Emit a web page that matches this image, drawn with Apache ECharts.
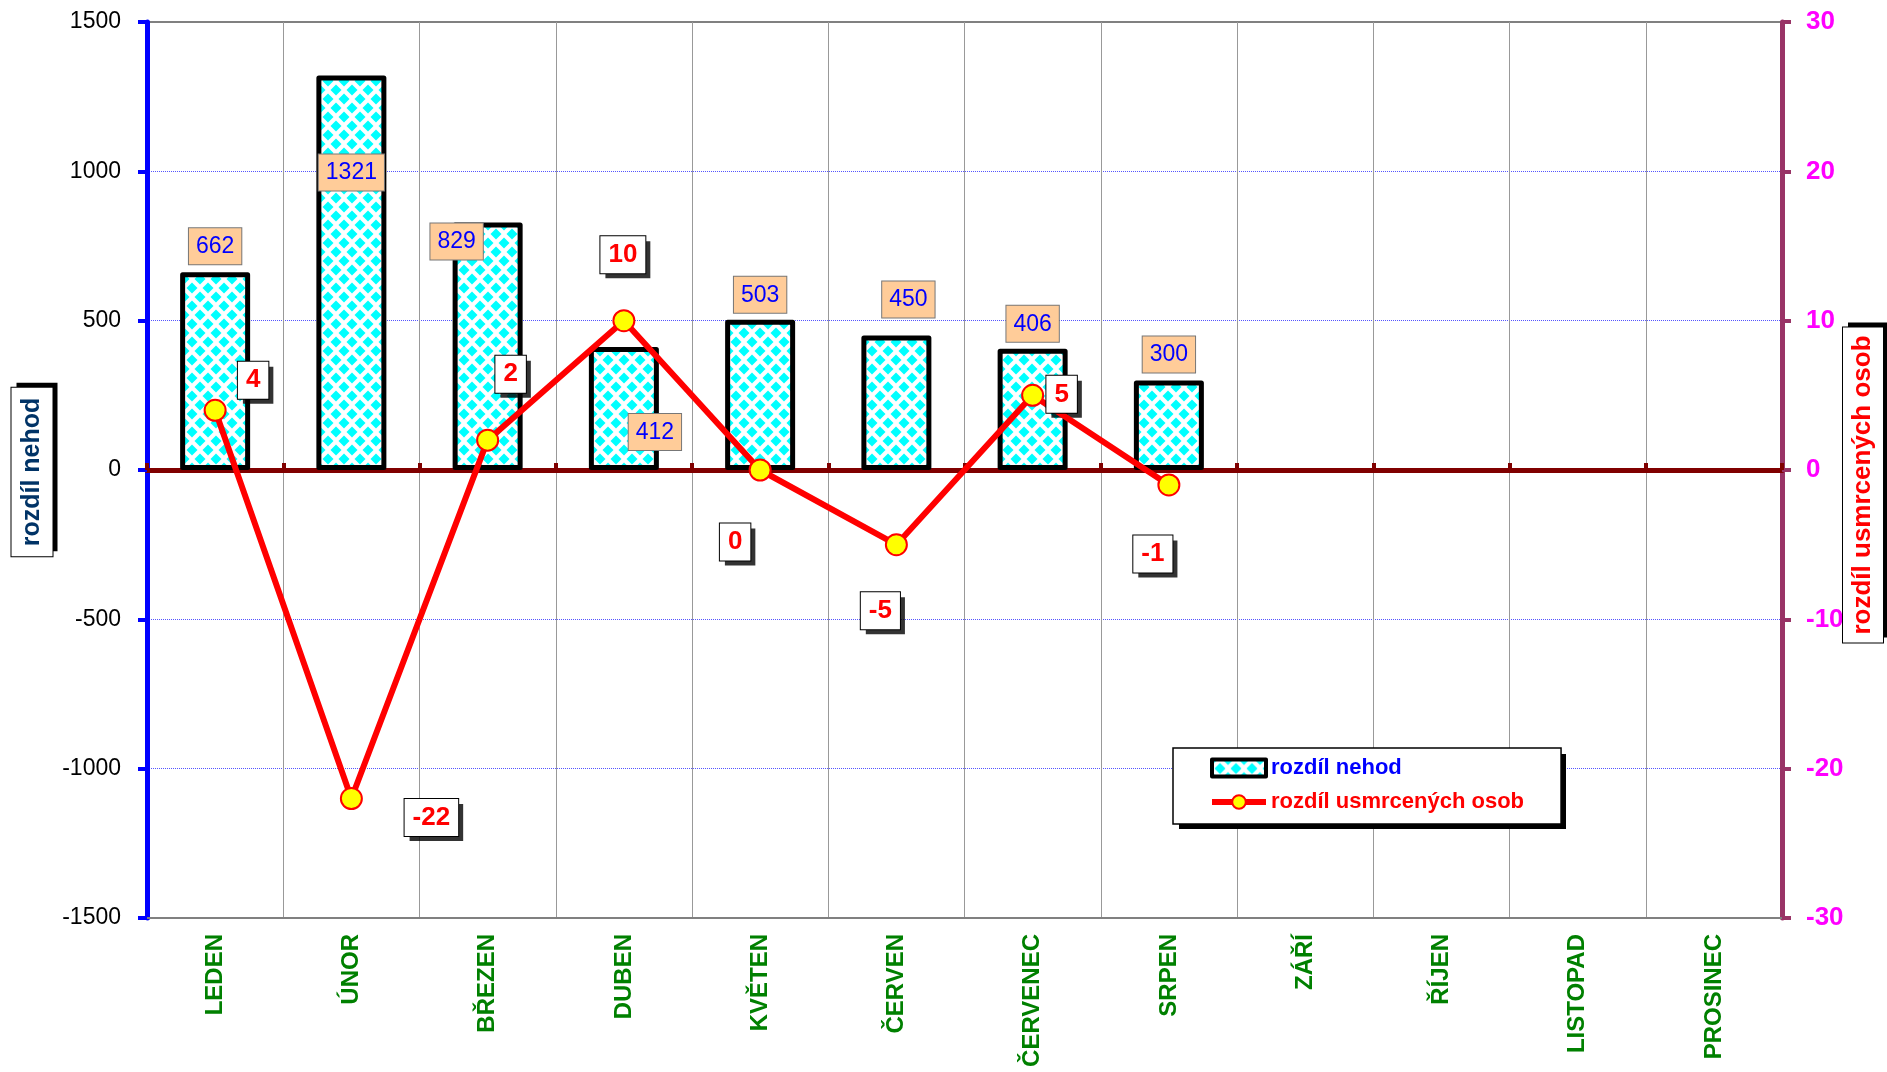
<!DOCTYPE html>
<html>
<head>
<meta charset="utf-8">
<title>rozdíl nehod / rozdíl usmrcených osob</title>
<script src="https://cdn.jsdelivr.net/npm/echarts@6/dist/echarts.min.js"></script>
<style>
  html, body { margin: 0; padding: 0; background: #fff; }
  #chart { width: 1887px; height: 1072px; }
</style>
</head>
<body>
<div id="chart"></div>
<script>
// data
var months = ['LEDEN', 'ÚNOR', 'BŘEZEN', 'DUBEN', 'KVĚTEN', 'ČERVEN', 'ČERVENEC', 'SRPEN', 'ZÁŘÍ', 'ŘÍJEN', 'LISTOPAD', 'PROSINEC'];
var rozdilNehod = [662, 1321, 829, 412, 503, 450, 406, 300];
var rozdilUsmrcenych = [4, -22, 2, 10, 0, -5, 5, -1];
var leftAxis = [-1500, 1500, 500];   // min, max, step
var rightAxis = [-30, 30, 10];

// label nudges (px) – the labels were dragged by hand in the original
var barLabelShift = [[0, -3], [0, 120], [-31, 42], [31, 108], [0, -2], [12, -13], [0, -2], [0, -3]];
var lineLabelShift = [[38, -30], [80, 19], [23, -66], [-1, -66], [-25, 72], [-16, 66], [29, -1], [-16, 69]];

var FONT = "'Liberation Sans', Arial, sans-serif";

// cyan diamond fill like the excel pattern
function diamondTile () {
  var w = 16, h = 18, r = 5.5;
  var c = document.createElement('canvas');
  c.width = w; c.height = h;
  var g = c.getContext('2d');
  g.fillStyle = '#fff';
  g.fillRect(0, 0, w, h);
  g.fillStyle = '#00FFFF';
  [[0, 0], [w, 0], [0, h], [w, h], [w / 2, h / 2]].forEach(function (p) {
    g.beginPath();
    g.moveTo(p[0], p[1] - r);
    g.lineTo(p[0] + r, p[1]);
    g.lineTo(p[0], p[1] + r);
    g.lineTo(p[0] - r, p[1]);
    g.closePath();
    g.fill();
  });
  return c;
}
var pattern = { image: diamondTile(), repeat: 'repeat' };

var barData = rozdilNehod.map(function (v, i) {
  return { value: v, label: { offset: barLabelShift[i] } };
});
var lineData = rozdilUsmrcenych.map(function (v, i) {
  return { value: v, label: { offset: lineLabelShift[i] } };
});
// black boxes under the line labels (excel shadow)
var shadowData = rozdilUsmrcenych.map(function (v, i) {
  return { value: v, label: { offset: [lineLabelShift[i][0] + 5, lineLabelShift[i][1] + 5] } };
});

var lineLabel = {
  show: true, position: 'inside',
  fontSize: 26, fontWeight: 'bold', fontFamily: FONT,
  padding: [6, 8, 5, 8]
};

// boxed vertical axis titles with a black shadow
function axisTitle (text, x, y, color, size, pad) {
  var font = 'bold ' + size + 'px ' + FONT;
  return [{
    type: 'text', x: x + 5, y: y - 5, rotation: Math.PI / 2, z: 9, silent: true,
    style: { text: text, font: font, fill: '#000', align: 'center', verticalAlign: 'middle',
             backgroundColor: '#000', padding: pad }
  }, {
    type: 'text', x: x, y: y, rotation: Math.PI / 2, z: 10, silent: true,
    style: { text: text, font: font, fill: color, align: 'center', verticalAlign: 'middle',
             backgroundColor: '#fff', borderColor: '#000', borderWidth: 1, padding: pad }
  }];
}

var chart = echarts.init(document.getElementById('chart'));
chart.setOption({
  backgroundColor: '#fff',
  animation: false,
  textStyle: { fontFamily: FONT },
  grid: {
    left: 147, right: 105, top: 22, bottom: 154,
    show: true, borderColor: '#808080', borderWidth: 2, backgroundColor: 'transparent'
  },
  graphic: axisTitle('rozdíl nehod', 32, 472, '#003366', 25, [8, 10, 8, 10])
    .concat(axisTitle('rozdíl usmrcených osob', 1863, 485, '#FF0000', 26, [7, 8, 7, 8]))
    .concat([{
      // legend shadow
      type: 'rect', left: 1179, top: 754, z: 1, silent: true,
      shape: { width: 387, height: 75 },
      style: { fill: '#000' }
    }]),
  legend: {
    orient: 'vertical',
    left: 1173, top: 748,
    padding: [9, 37, 11, 36],
    itemWidth: 54, itemHeight: 17, itemGap: 12,
    backgroundColor: '#fff',
    borderColor: '#000', borderWidth: 1.5,
    z: 5,
    textStyle: { fontSize: 22, fontWeight: 'bold', fontFamily: FONT },
    data: [
      { name: 'rozdíl nehod', icon: 'rect', textStyle: { color: '#0000FF' }, itemStyle: { borderWidth: 4 } },
      { name: 'rozdíl usmrcených osob', textStyle: { color: '#FF0000' },
        lineStyle: { width: 6 }, itemStyle: { borderWidth: 2 } }
    ]
  },
  xAxis: [{
    type: 'category',
    data: months,
    position: 'bottom',
    axisLine: { onZero: false, lineStyle: { color: '#808080', width: 2 } },
    axisTick: { show: false },
    splitLine: { show: true, lineStyle: { color: '#999', width: 1 } },
    axisLabel: {
      rotate: 90, margin: 16, interval: 0,
      color: '#008000', fontSize: 24, fontWeight: 'bold', fontFamily: FONT
    }
  }, {
    // dark red line at zero with the month ticks
    type: 'category',
    data: months,
    position: 'top',
    axisLine: { onZero: true, lineStyle: { color: '#800000', width: 5 } },
    axisTick: { show: true, length: 7, lineStyle: { color: '#800000', width: 4 } },
    axisLabel: { show: false },
    splitLine: { show: false }
  }],
  yAxis: [{
    type: 'value',
    min: leftAxis[0], max: leftAxis[1], interval: leftAxis[2],
    axisLine: { show: true, lineStyle: { color: '#0000FF', width: 5 } },
    axisTick: { show: true, length: 9, lineStyle: { color: '#0000FF', width: 4 } },
    axisLabel: {
      margin: 26, color: '#000', fontSize: 23, fontFamily: FONT,
      formatter: function (v) { return String(v); }
    },
    splitLine: {
      show: true, showMinLine: false, showMaxLine: false,
      lineStyle: { color: '#5555ff', type: 'dotted', width: 1 }
    }
  }, {
    type: 'value',
    position: 'right',
    min: rightAxis[0], max: rightAxis[1], interval: rightAxis[2],
    axisLine: { show: true, lineStyle: { color: '#993366', width: 5 } },
    axisTick: { show: true, length: 9, lineStyle: { color: '#993366', width: 4 } },
    axisLabel: { margin: 24, color: '#FF00FF', fontSize: 26, fontWeight: 'bold', fontFamily: FONT },
    splitLine: { show: false }
  }],
  series: [{
    name: 'rozdíl nehod',
    type: 'bar',
    xAxisIndex: 0, yAxisIndex: 0,
    barWidth: 70,
    data: barData,
    itemStyle: { color: pattern, borderColor: '#000', borderWidth: 5, borderJoin: 'round' },
    label: {
      show: true, position: 'top', distance: 5,
      color: '#0000FF', fontSize: 23, fontFamily: FONT,
      backgroundColor: '#FFCC99', borderColor: '#777', borderWidth: 1,
      padding: [7, 7, 6, 7]
    },
    z: 2
  }, {
    name: 'stín',
    type: 'scatter',
    xAxisIndex: 0, yAxisIndex: 1,
    data: shadowData,
    symbol: 'circle', symbolSize: 1,
    itemStyle: { color: 'rgba(0,0,0,0)' },
    label: Object.assign({}, lineLabel, { color: '#000', backgroundColor: '#000' }),
    silent: true,
    z: 3
  }, {
    name: 'rozdíl usmrcených osob',
    type: 'line',
    xAxisIndex: 0, yAxisIndex: 1,
    data: lineData,
    symbol: 'circle', symbolSize: 21,
    lineStyle: { color: '#FF0000', width: 6 },
    itemStyle: { color: '#FFFF00', borderColor: '#FF0000', borderWidth: 2 },
    label: Object.assign({}, lineLabel, {
      color: '#FF0000', backgroundColor: '#fff', borderColor: '#000', borderWidth: 1
    }),
    z: 4
  }]
});
</script>
</body>
</html>
